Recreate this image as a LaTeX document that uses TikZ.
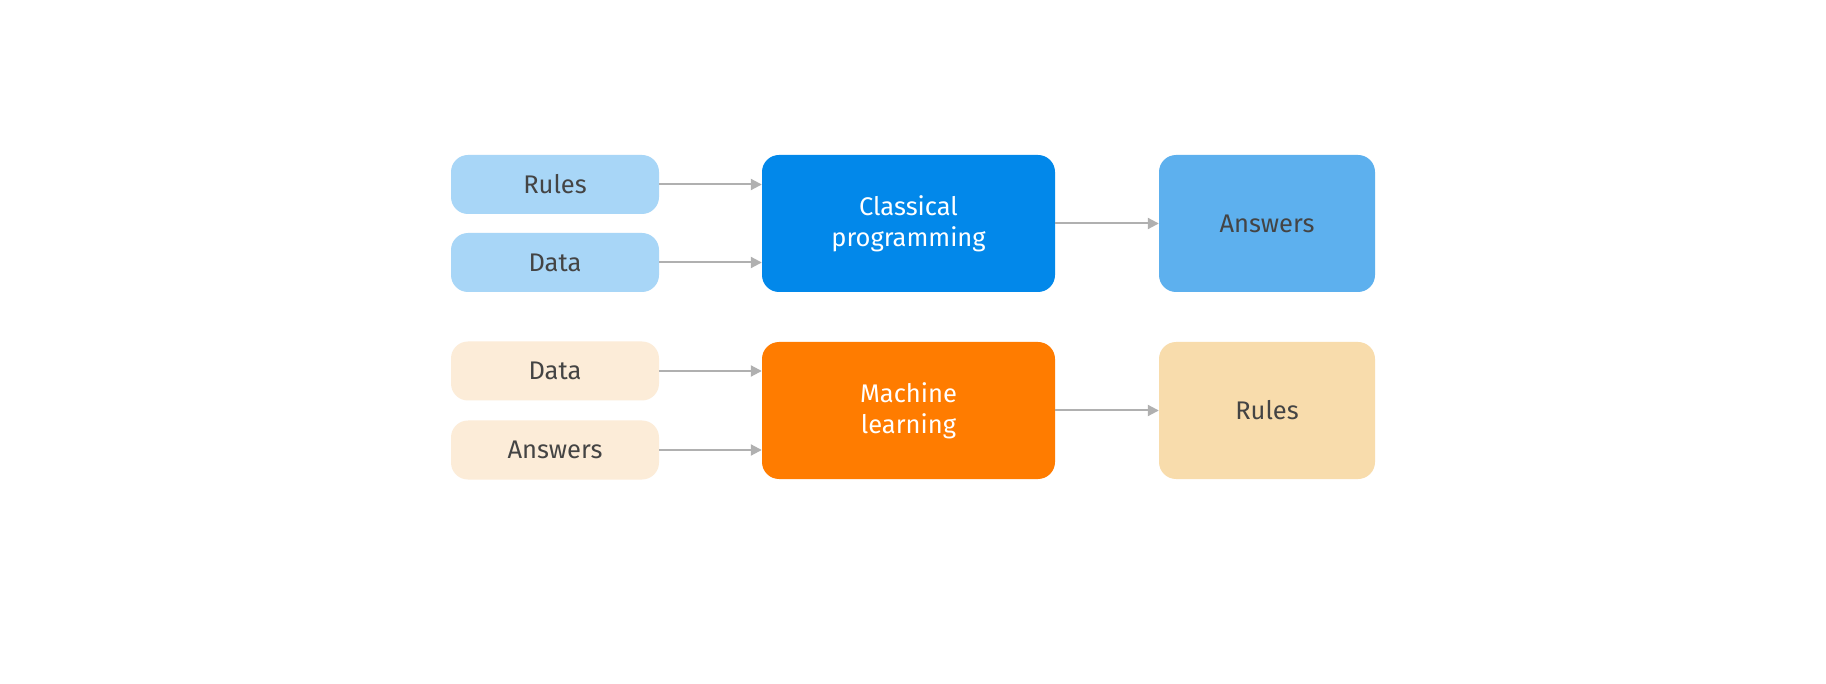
\documentclass[tikz,border=0pt]{standalone}
\usepackage{fontspec}
\setmainfont{Fira Sans}
\usetikzlibrary{arrows.meta}
\definecolor{lblue}{HTML}{A8D6F7}
\definecolor{dblue}{HTML}{0288EA}
\definecolor{mblue}{HTML}{5DB0EE}
\definecolor{orng}{HTML}{FF7C00}
\definecolor{lbeige}{HTML}{FCECD8}
\definecolor{beige}{HTML}{F8DCAC}
\definecolor{txt}{HTML}{444444}
\definecolor{arr}{HTML}{B0B0B0}
\tikzset{
  box/.style={rounded corners=17pt, inner sep=0pt, align=center, font=\fontsize{25.5}{31}\selectfont},
  small/.style={box, minimum width=208pt, minimum height=59pt, text=txt},
  big/.style={box, minimum width=293pt, minimum height=137pt, text=white},
  res/.style={box, minimum width=216pt, minimum height=137pt, text=txt},
  conn/.style={draw=arr, line width=2pt, -{Triangle[length=11pt,width=11pt]}}
}
\begin{document}
\begin{tikzpicture}[x=1pt,y=-1pt]
\useasboundingbox[fill=white] (0,0) rectangle (1826,684);
\node[small, fill=lblue] (r1) at (555,184.5) {Rules};
\node[small, fill=lblue] (d1) at (555,262.5) {Data};
\node[big, fill=dblue] (cp) at (908.5,223.5) {Classical\\programming};
\node[res, fill=mblue] (a1) at (1267,223.5) {Answers};
\node[small, fill=lbeige] (d2) at (555,371) {Data};
\node[small, fill=lbeige] (a2) at (555,450) {Answers};
\node[big, fill=orng] (ml) at (908.5,410.5) {Machine\\learning};
\node[res, fill=beige] (r2) at (1267,410.5) {Rules};
\draw[conn] (r1.east) -- (r1.east -| cp.west);
\draw[conn] (d1.east) -- (d1.east -| cp.west);
\draw[conn] (cp.east) -- (a1.west);
\draw[conn] (d2.east) -- (d2.east -| ml.west);
\draw[conn] (a2.east) -- (a2.east -| ml.west);
\draw[conn] (ml.east) -- (r2.west);
\end{tikzpicture}
\end{document}
